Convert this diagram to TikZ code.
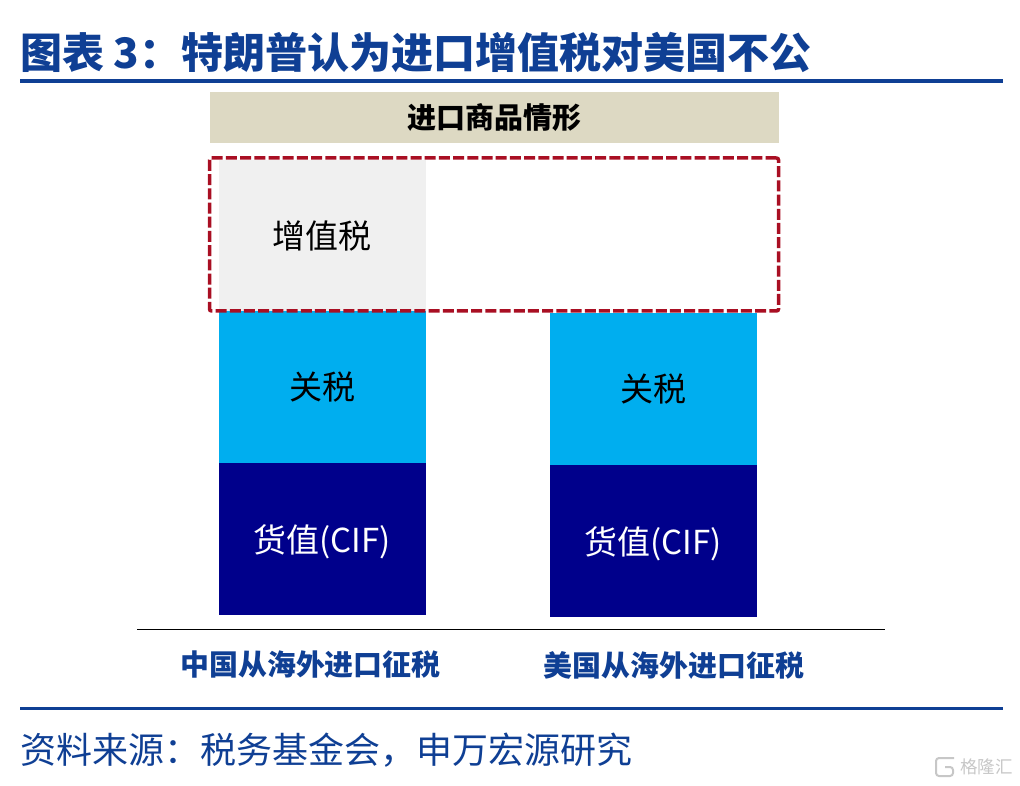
\documentclass[tikz,border=0pt]{standalone}
\usepackage{fontspec}
\setmainfont{Noto Sans CJK SC}
\usetikzlibrary{calc}
\definecolor{titleblue}{HTML}{0F3F94}
\definecolor{navybar}{HTML}{00008B}
\definecolor{cyanbar}{HTML}{00AEEF}
\definecolor{beigebar}{HTML}{DDD9C3}
\definecolor{graybar}{HTML}{F0F0F0}
\definecolor{dashred}{HTML}{A90F23}
\newcommand{\barText}[1]{\raisebox{-3pt}[\height][\depth]{#1}}
\tikzset{
  bar/.style={anchor=north west, inner sep=0pt, outer sep=0pt, minimum width=206.5pt},
  barlabel/.style={font=\fontsize{33}{36}\selectfont, text=black},
  caption/.style={font=\fontsize{28.9}{30}\selectfont\bfseries, text=titleblue, inner sep=0pt},
  rule/.style={titleblue, line width=3.5pt}
}
\begin{document}
\begin{tikzpicture}[x=1pt, y=-1pt]
  \useasboundingbox (0,0) rectangle (1020,786);

  % title and source
  \node[anchor=west, inner sep=0pt, font=\fontsize{42}{44}\selectfont\bfseries, text=titleblue] (title) at (20,52) {图表 3：特朗普认为进口增值税对美国不公};
  \coordinate (ruleTopL) at (20,81);
  \coordinate (ruleTopR) at (1003,81);
  \draw[rule] (ruleTopL) -- (ruleTopR);
  \coordinate (ruleBotL) at (20,708.5);
  \coordinate (ruleBotR) at (1003,708.5);
  \draw[rule] (ruleBotL) -- (ruleBotR);
  \node[anchor=west, inner sep=0pt, font=\fontsize{36}{38}\selectfont, text=titleblue] (source) at (20,750) {资料来源：税务基金会，申万宏源研究};

  % header
  \node[bar, fill=beigebar, minimum width=569pt, minimum height=51pt, font=\fontsize{29}{31}\selectfont\bfseries] (header) at (210,92) {进口商品情形};

  % bars
  \node[bar, fill=graybar, minimum height=151pt, barlabel] (vatL) at (219,160) {增值税};
  \foreach \xpos/\ytop/\side in {219/311/L, 550/313/R}{
    \node[bar, fill=cyanbar, minimum height=152pt, barlabel] (tariff\side) at (\xpos,\ytop) {关税};
    \node[bar, fill=navybar, minimum height=151.5pt, barlabel, text=white] (goods\side) at (\xpos,\ytop+152) {\barText{货值(CIF)}};
  }

  % dashed frame
  \node[draw=dashred, line width=3.5pt, dash pattern=on 11pt off 3.2pt, rounded corners=2pt, anchor=north west, inner sep=0pt, outer sep=0pt, minimum width=569pt, minimum height=153pt] (frame) at (209.5,158) {};

  % base line and captions
  \coordinate (baseL) at (137,629.5);
  \coordinate (baseR) at (885,629.5);
  \draw[line width=1.5pt] (baseL) -- (baseR);
  \node[caption] (captionL) at (310.5,665) {中国从海外进口征税};
  \node[caption] (captionR) at (674,665) {美国从海外进口征税};

  % watermark
  \node[anchor=east, inner sep=0pt, font=\fontsize{17.5}{19}\selectfont, text=black!22] (mark) at (1013,767) {格隆汇};
  \draw[black!22, line width=2pt, rounded corners=3pt] (954,758) -- (936,758) -- (936,776) -- (953,776) -- (953,767) -- (945,767);
\end{tikzpicture}
\end{document}
